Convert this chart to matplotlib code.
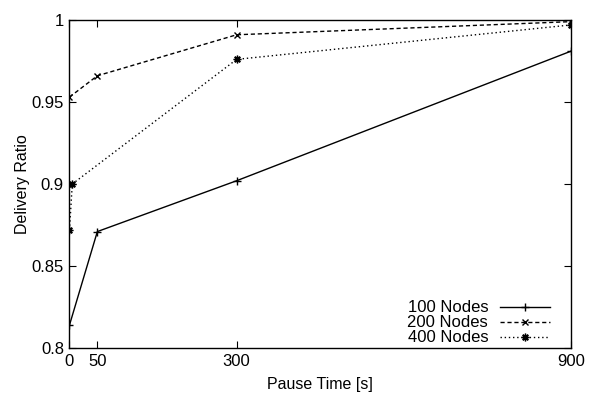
import matplotlib
matplotlib.use("Agg")
import matplotlib.pyplot as plt

# Pause time [s] vs delivery ratio
pause_100 = [0, 50, 300, 900]
ratio_100 = [0.814, 0.871, 0.902, 0.981]

pause_200 = [0, 50, 300, 900]
ratio_200 = [0.953, 0.966, 0.991, 0.999]

pause_400 = [0, 5, 300, 900]
ratio_400 = [0.872, 0.900, 0.976, 0.997]

x_ticks = [0, 50, 300, 900]
y_ticks = [0.8, 0.85, 0.9, 0.95, 1.0]
y_tick_labels = ["0.8", "0.85", "0.9", "0.95", "1"]

plt.rcParams["font.family"] = ["Liberation Sans", "DejaVu Sans"]
plt.rcParams["font.size"] = 12

fig = plt.figure(figsize=(5.98, 3.97), dpi=100)
ax = fig.add_axes([0.1162, 0.1234, 0.8386, 0.8262])

ax.plot(pause_100, ratio_100, color="black", linewidth=1.0, linestyle="-",
        marker="+", markersize=6, markeredgewidth=1.0, label="100 Nodes")
ax.plot(pause_200, ratio_200, color="black", linewidth=1.0, linestyle=(0, (3, 2)),
        marker="x", markersize=5, markeredgewidth=1.0, label="200 Nodes")
ax.plot(pause_400, ratio_400, color="black", linewidth=1.0, linestyle=(0, (1, 2)),
        marker=(8, 2, 0), markersize=5.5, markeredgewidth=1.0, label="400 Nodes")

ax.set_xlim(0, 900)
ax.set_ylim(0.8, 1.0)
ax.set_xticks(x_ticks)
ax.set_yticks(y_ticks)
ax.set_yticklabels(y_tick_labels)
ax.tick_params(direction="in", top=True, right=True, length=5, width=0.8,
               labelsize=12, pad=4)

ax.set_xlabel("Pause Time [s]", fontsize=11.5, labelpad=6)
ax.set_ylabel("Delivery Ratio", fontsize=11.5, labelpad=1)

for s in ax.spines.values():
    s.set_linewidth(1.0)

ax.legend(loc="lower right", bbox_to_anchor=(0.958, 0.008), frameon=False,
          markerfirst=False, handlelength=3.0, labelspacing=0.0,
          handletextpad=0.7, borderaxespad=0.0, borderpad=0.0, fontsize=12)

fig.savefig("out.png", dpi=100)
